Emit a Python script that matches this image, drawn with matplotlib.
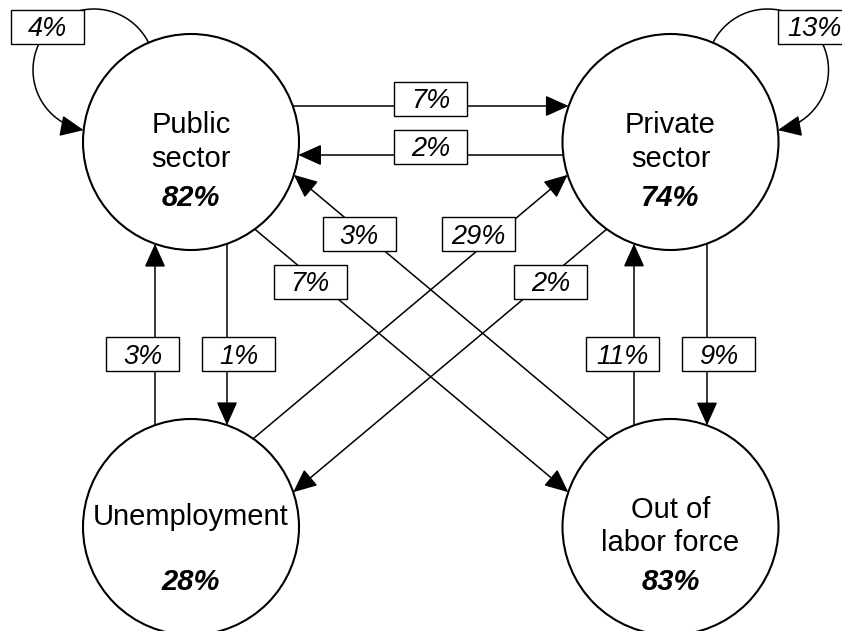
import numpy as np
import matplotlib
matplotlib.use("Agg")
import matplotlib.pyplot as plt
from matplotlib.patches import Circle, Rectangle, FancyArrowPatch
from matplotlib.path import Path

plt.rcParams['font.family'] = ['Liberation Sans', 'DejaVu Sans']

# states and share that stays in the same state
states = ['Public\nsector', 'Private\nsector', 'Unemployment', 'Out of\nlabor force']
stay_pct = [82, 74, 28, 83]

# flows between states (from, to, %)
flow_from = [0, 1, 0, 1, 0, 2, 2, 3, 1, 3, 0, 1]
flow_to = [1, 0, 3, 2, 2, 0, 1, 0, 3, 1, 0, 1]
flow_pct = [7, 2, 7, 2, 1, 3, 29, 3, 9, 11, 4, 13]

# layout (pixels, y down)
W, H = 842, 631
centers = np.array([(191, 142), (670.5, 142), (191, 527), (670.5, 527)], float)
R = 108
# line of each flow: anchor node, offset from its centre, direction (deg)
lines = [(0, 0, -36, 0), (1, 0, 13, 180), (0, 66, 89, 40), (1, -66, 89, 140),
         (0, 36, 0, 90), (2, -36, 0, -90), (1, -109, 38, -40), (0, 109, 38, 220),
         (1, 36.5, 0, 90), (3, -36.5, 0, -90), None, None]
# self loops: centre offset and radius
loop_off = {0: (-97, -72), 1: (97, -72)}
loop_r = 61
# label boxes (centre)
box_pos = [(430.5, 99), (430.5, 146.5), (310, 281.5), (550.5, 281.5),
           (238.5, 354), (142.5, 354), (478.5, 234), (359, 234),
           (718.5, 354), (622.5, 354), (47, 26.5), (814.5, 26.5)]
box_w, box_h = 73, 34
# baseline offsets of the label lines
name_dy = {0: [-9, 25], 1: [-9, 25], 2: [-2], 3: [-9, 24]}
pct_dy = [64, 64, 63, 63]

fig = plt.figure(figsize=(W / 100, H / 100), dpi=100)
ax = fig.add_axes([0, 0, 1, 1])
ax.set_xlim(0, W)
ax.set_ylim(H, 0)
ax.axis('off')

arrow_kw = dict(arrowstyle='-|>,head_length=14.5,head_width=6.5', mutation_scale=1,
                color='black', lw=1.1, shrinkA=0, shrinkB=0, zorder=1)


def circle_hits(p, d, c):
    f = p - c
    b = np.dot(f, d)
    s = np.sqrt(b * b - (np.dot(f, f) - R * R))
    return -b - s, -b + s


for i in range(len(flow_pct)):
    a, b = flow_from[i], flow_to[i]
    if a == b:
        # self loop: arc of a circle outside the node
        L = centers[a] + np.array(loop_off[a])
        d = np.linalg.norm(L - centers[a])
        u = (L - centers[a]) / d
        perp = np.array([u[1], -u[0]])
        aa = (d * d + R * R - loop_r ** 2) / (2 * d)
        hh = np.sqrt(R * R - aa * aa)
        p1 = centers[a] + aa * u + hh * perp
        p2 = centers[a] + aa * u - hh * perp
        start, end = (p1, p2) if p1[1] < p2[1] else (p2, p1)
        a_s = np.arctan2(*(start - L)[::-1])
        a_e = np.arctan2(*(end - L)[::-1])
        a_m = np.arctan2(*(L - centers[a])[::-1])
        sgn = np.sign((a_m - a_s + np.pi) % (2 * np.pi) - np.pi)
        delta = (a_e - a_s) % (2 * np.pi)
        if sgn < 0:
            delta -= 2 * np.pi
        t = np.linspace(a_s, a_s + delta, 120)
        pts = np.column_stack([L[0] + loop_r * np.cos(t), L[1] + loop_r * np.sin(t)])
        ax.add_patch(FancyArrowPatch(path=Path(pts), **arrow_kw))
    else:
        n, ox, oy, ang = lines[i]
        p = centers[n] + np.array([ox, oy])
        dv = np.array([np.cos(np.radians(ang)), np.sin(np.radians(ang))])
        t0 = circle_hits(p, dv, centers[a])[1]
        t1 = circle_hits(p, dv, centers[b])[0]
        ax.add_patch(FancyArrowPatch(tuple(p + t0 * dv), tuple(p + t1 * dv), **arrow_kw))

    bx, by = box_pos[i]
    ax.add_patch(Rectangle((bx - box_w / 2, by - box_h / 2), box_w, box_h,
                           facecolor='white', edgecolor='black', lw=1.0, zorder=3))
    ax.text(bx, by + 9.5, '%d%%' % flow_pct[i], fontsize=19.5, style='italic',
            ha='center', va='baseline', zorder=4)

# nodes
for k in range(len(states)):
    cx, cy = centers[k]
    ax.add_patch(Circle((cx, cy), R, facecolor='none', edgecolor='black', lw=1.5, zorder=2))
    for line, dy in zip(states[k].split('\n'), name_dy[k]):
        ax.text(cx, cy + dy, line, fontsize=21, ha='center', va='baseline', zorder=4)
    ax.text(cx, cy + pct_dy[k], '%d%%' % stay_pct[k], fontsize=21, style='italic',
            weight='bold', ha='center', va='baseline', zorder=4)

fig.savefig('out.png', dpi=100)
